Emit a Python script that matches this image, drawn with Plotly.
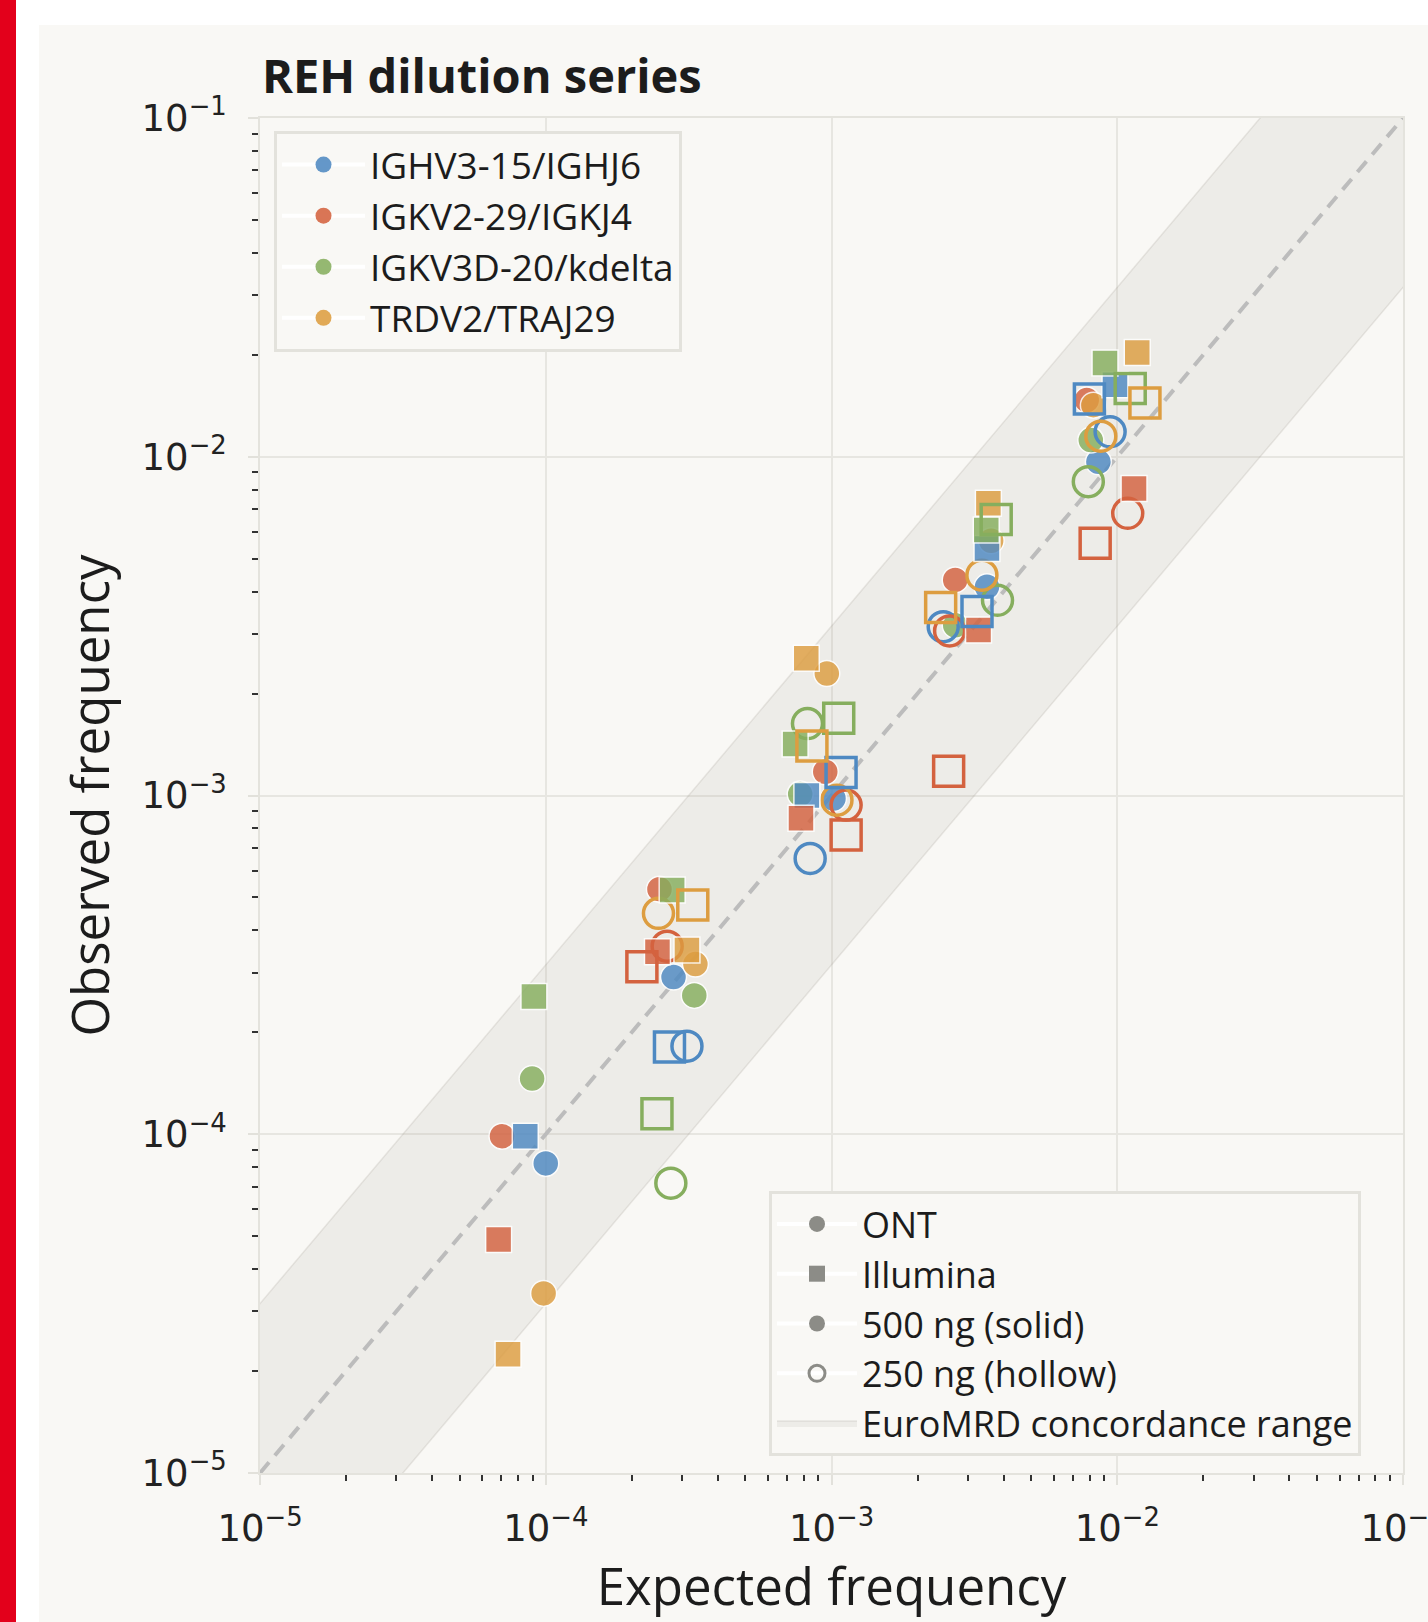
import plotly.graph_objects as go

# ---------------- data ----------------
GENES = ["IGHV3-15/IGHJ6", "IGKV2-29/IGKJ4", "IGKV3D-20/kdelta", "TRDV2/TRAJ29"]
GENE_COLORS = ["#4e89c2", "#d4623f", "#86ae5e", "#dd9d40"]

# IGHV3-15/IGHJ6
IGHV_ONT500_EXP = [1.00e-4, 2.80e-4, 1.016e-3, 3.50e-3, 8.59e-3]
IGHV_ONT500_OBS = [8.2e-5, 2.91e-4, 9.8e-4, 4.13e-3, 9.66e-3]
IGHV_ILL500_EXP = [8.48e-5, 8.20e-4, 3.50e-3, 9.82e-3]
IGHV_ILL500_OBS = [9.87e-5, 1.00e-3, 5.36e-3, 1.63e-2]
IGHV_ONT250_EXP = [3.12e-4, 8.42e-4, 2.46e-3, 9.44e-3]
IGHV_ONT250_OBS = [1.82e-4, 6.52e-4, 3.15e-3, 1.185e-2]
IGHV_ILL250_EXP = [2.71e-4, 1.08e-3, 3.23e-3, 7.99e-3]
IGHV_ILL250_OBS = [1.81e-4, 1.17e-3, 3.49e-3, 1.48e-2]

# IGKV2-29/IGKJ4
IGKV2_ONT500_EXP = [7.03e-5, 2.50e-4, 9.51e-4, 2.71e-3, 7.82e-3]
IGKV2_ONT500_OBS = [9.87e-5, 5.29e-4, 1.175e-3, 4.33e-3, 1.47e-2]
IGKV2_ILL500_EXP = [6.84e-5, 2.46e-4, 7.82e-4, 3.27e-3, 1.145e-2]
IGKV2_ILL500_OBS = [4.89e-5, 3.46e-4, 8.56e-4, 3.08e-3, 8.06e-3]
IGKV2_ONT250_EXP = [2.66e-4, 1.125e-3, 2.59e-3, 1.088e-2]
IGKV2_ONT250_OBS = [3.59e-4, 9.37e-4, 3.06e-3, 6.81e-3]
IGKV2_ILL250_EXP = [2.17e-4, 1.125e-3, 2.57e-3, 8.37e-3]
IGKV2_ILL250_OBS = [3.12e-4, 7.64e-4, 1.18e-3, 5.55e-3]

# IGKV3D-20/kdelta
IGKV3_ONT500_EXP = [8.96e-5, 3.31e-4, 7.77e-4, 2.71e-3, 8.08e-3]
IGKV3_ONT500_OBS = [1.46e-4, 2.57e-4, 1.01e-3, 3.18e-3, 1.12e-2]
IGKV3_ILL500_EXP = [9.09e-5, 2.77e-4, 7.46e-4, 3.48e-3, 9.06e-3]
IGKV3_ILL500_OBS = [2.55e-4, 5.26e-4, 1.42e-3, 6.08e-3, 1.89e-2]
IGKV3_ONT250_EXP = [2.74e-4, 8.24e-4, 3.81e-3, 7.92e-3]
IGKV3_ONT250_OBS = [7.17e-5, 1.63e-3, 3.77e-3, 8.44e-3]
IGKV3_ILL250_EXP = [2.45e-4, 1.06e-3, 3.77e-3, 1.11e-2]
IGKV3_ILL250_OBS = [1.15e-4, 1.69e-3, 6.53e-3, 1.59e-2]

# TRDV2/TRAJ29
TRDV_ONT500_EXP = [9.83e-5, 3.34e-4, 9.63e-4, 3.62e-3, 8.25e-3]
TRDV_ONT500_OBS = [3.39e-5, 3.18e-4, 2.29e-3, 5.65e-3, 1.42e-2]
TRDV_ILL500_EXP = [7.38e-5, 3.12e-4, 8.16e-4, 3.54e-3, 1.175e-2]
TRDV_ILL500_OBS = [2.24e-5, 3.50e-4, 2.54e-3, 7.29e-3, 2.03e-2]
TRDV_ONT250_EXP = [2.48e-4, 1.045e-3, 3.36e-3, 8.76e-3]
TRDV_ONT250_OBS = [4.49e-4, 9.69e-4, 4.47e-3, 1.15e-2]
TRDV_ILL250_EXP = [3.27e-4, 8.54e-4, 2.41e-3, 1.25e-2]
TRDV_ILL250_OBS = [4.75e-4, 1.40e-3, 3.59e-3, 1.44e-2]

# identity line and EuroMRD concordance band (+/- half a log)
IDENTITY = [1e-5, 1e-1]
BAND_X = [1e-6, 1.0, 1.0, 1e-6]
BAND_Y = [3.162e-7, 0.3162, 3.162, 3.162e-6]

TICK_VALS = [1e-5, 1e-4, 1e-3, 1e-2, 1e-1]
TICK_TEXT = ["10<sup>−5</sup>", "10<sup>−4</sup>", "10<sup>−3</sup>",
             "10<sup>−2</sup>", "10<sup>−1</sup>"]
MINOR_TICKS = [k * 10.0 ** e for e in range(-5, -1) for k in range(2, 10)]

SERIES = {
    GENES[0]: [(IGHV_ONT500_EXP, IGHV_ONT500_OBS), (IGHV_ONT250_EXP, IGHV_ONT250_OBS),
               (IGHV_ILL500_EXP, IGHV_ILL500_OBS), (IGHV_ILL250_EXP, IGHV_ILL250_OBS)],
    GENES[1]: [(IGKV2_ONT500_EXP, IGKV2_ONT500_OBS), (IGKV2_ONT250_EXP, IGKV2_ONT250_OBS),
               (IGKV2_ILL500_EXP, IGKV2_ILL500_OBS), (IGKV2_ILL250_EXP, IGKV2_ILL250_OBS)],
    GENES[2]: [(IGKV3_ONT500_EXP, IGKV3_ONT500_OBS), (IGKV3_ONT250_EXP, IGKV3_ONT250_OBS),
               (IGKV3_ILL500_EXP, IGKV3_ILL500_OBS), (IGKV3_ILL250_EXP, IGKV3_ILL250_OBS)],
    GENES[3]: [(TRDV_ONT500_EXP, TRDV_ONT500_OBS), (TRDV_ONT250_EXP, TRDV_ONT250_OBS),
               (TRDV_ILL500_EXP, TRDV_ILL500_OBS), (TRDV_ILL250_EXP, TRDV_ILL250_OBS)],
}
# run order: ONT 500, ONT 250, Illumina 500, Illumina 250
RUN_SYMBOLS = ["circle", "circle-open", "square", "square-open"]
RUN_HOLLOW = [False, True, False, True]

# ---------------- layout geometry ----------------
W, H = 1428, 1622
ML, MR, MT, MB = 260, 25, 118, 149
PW, PH = W - ML - MR, H - MT - MB
BG = "#f9f8f5"
TXT = "#1c1c1c"
FONT = "Open Sans"


def xp(px):
    return (px - ML) / PW


def yp(py):
    return (H - MB - py) / PH


fig = go.Figure()

# concordance band (also the legend entry)
fig.add_trace(go.Scatter(
    x=BAND_X, y=BAND_Y, mode="lines", fill="toself",
    fillcolor="rgba(160,155,145,0.13)", line=dict(color="rgba(150,145,135,0.18)", width=1.5),
    name="EuroMRD concordance range", legend="legend2", legendgroup="band",
    legendrank=5, hoverinfo="skip"))

# identity line
fig.add_trace(go.Scatter(
    x=IDENTITY, y=IDENTITY, mode="lines",
    line=dict(color="#bcbcbc", width=4, dash="14px,9px"),
    showlegend=False, hoverinfo="skip"))

# data points
for r in range(4):
    for gene, color in zip(GENES, GENE_COLORS):
        xs, ys = SERIES[gene][r]
        if RUN_HOLLOW[r]:
            marker = dict(symbol=RUN_SYMBOLS[r], size=30, color=color,
                          line=dict(color=color, width=3.5))
        else:
            marker = dict(symbol=RUN_SYMBOLS[r], size=26, color=color, opacity=0.82,
                          line=dict(color="white", width=1.5))
        fig.add_trace(go.Scatter(x=xs, y=ys, mode="markers", marker=marker,
                                 showlegend=False, name=gene))

# legend 1: genes
for i, (gene, color) in enumerate(zip(GENES, GENE_COLORS)):
    fig.add_trace(go.Scatter(
        x=[None], y=[None], mode="lines+markers", name=gene,
        line=dict(color="white", width=4),
        marker=dict(symbol="circle", size=24, color=color, opacity=0.88),
        legend="legend", legendgroup="g%d" % i, legendrank=i + 1))

# legend 2: platform / input
GRAY = "#8c8c87"
LEG2 = [("ONT", "circle"), ("Illumina", "square"),
        ("500 ng (solid)", "circle"), ("250 ng (hollow)", "circle-open")]
for i, (label, sym) in enumerate(LEG2):
    fig.add_trace(go.Scatter(
        x=[None], y=[None], mode="lines+markers", name=label,
        line=dict(color="white", width=4),
        marker=dict(symbol=sym, size=24, color=GRAY,
                    line=dict(color=GRAY, width=3 if sym.endswith("open") else 0)),
        legend="legend2", legendgroup="l2_%d" % i, legendrank=i + 1))

axis_common = dict(
    type="log", range=[-5, -1],
    tickmode="array", tickvals=TICK_VALS, ticktext=TICK_TEXT,
    tickfont=dict(family="DejaVu Sans", size=37, color="#222222"),
    ticks="outside", ticklen=10, tickwidth=1.5, tickcolor="#e2e1db",
    showgrid=True, gridcolor="#e7e6e1", gridwidth=1.5,
    showline=True, linecolor="#e4e3dd", linewidth=1.5, mirror=True,
    zeroline=False, ticklabeloverflow="allow",
    minor=dict(tickmode="array", tickvals=MINOR_TICKS, ticks="outside",
               ticklen=6, tickwidth=2, tickcolor="#333333", showgrid=False),
)

fig.update_layout(
    width=W, height=H,
    margin=dict(l=ML, r=MR, t=MT, b=MB, autoexpand=False),
    paper_bgcolor="white", plot_bgcolor=BG,
    showlegend=True,
    xaxis=dict(axis_common,
               title=dict(text="Expected frequency", standoff=14,
                          font=dict(family=FONT, size=51, color=TXT)),
               ticklabelstandoff=12),
    yaxis=dict(axis_common,
               title=dict(text="Observed frequency", standoff=16,
                          font=dict(family=FONT, size=51, color=TXT)),
               ticklabelstandoff=14),
    legend=dict(x=xp(274), y=yp(131), xanchor="left", yanchor="top",
                bgcolor=BG, bordercolor="#e3e2dc", borderwidth=3,
                font=dict(family=FONT, size=37, color=TXT),
                itemwidth=83, traceorder="grouped", tracegroupgap=0,
                itemclick=False, itemdoubleclick=False),
    legend2=dict(x=xp(769), y=yp(1191), xanchor="left", yanchor="top",
                 bgcolor=BG, bordercolor="#e3e2dc", borderwidth=3,
                 font=dict(family=FONT, size=36, color=TXT),
                 itemwidth=80, traceorder="grouped", tracegroupgap=0,
                 itemclick=False, itemdoubleclick=False),
    annotations=[dict(
        text="<b>REH dilution series</b>", xref="paper", yref="paper",
        x=0, y=yp(75), xanchor="left", yanchor="middle", showarrow=False,
        font=dict(family=FONT, size=47, color=TXT))],
    shapes=[
        dict(type="rect", xref="paper", yref="paper", layer="below",
             x0=xp(39), x1=xp(W + 5), y0=yp(H + 5), y1=yp(25),
             fillcolor=BG, line=dict(width=0)),
        dict(type="rect", xref="paper", yref="paper", layer="below",
             x0=xp(-5), x1=xp(16), y0=yp(H + 5), y1=yp(-5),
             fillcolor="#e3001b", line=dict(width=0)),
    ],
)

fig.write_html("out.html", config={"displayModeBar": False},
               post_script="document.body.style.margin='0px';")
